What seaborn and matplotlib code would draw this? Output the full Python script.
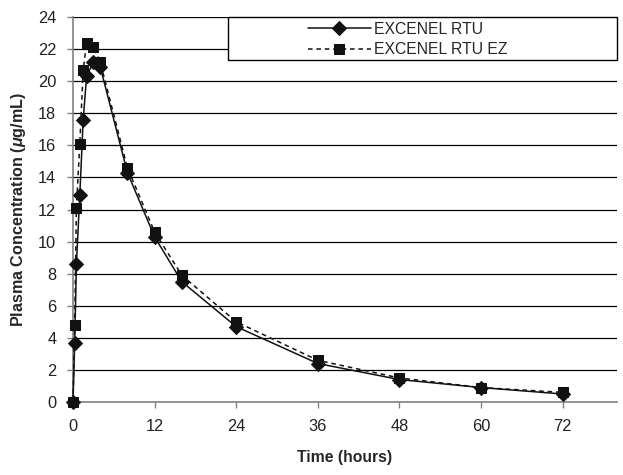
import matplotlib
matplotlib.use("Agg")
import matplotlib.pyplot as plt
import seaborn as sns
import pandas as pd
from matplotlib.patches import Rectangle

# ---- data ----
time_h = [0, 0.25, 0.5, 1, 1.5, 2, 3, 4, 8, 12, 16, 24, 36, 48, 60, 72]
rtu = [0, 3.7, 8.6, 12.9, 17.6, 20.3, 21.2, 20.9, 14.3, 10.3, 7.5, 4.7, 2.4, 1.4, 0.9, 0.5]
rtu_ez = [0, 4.8, 12.1, 16.1, 20.7, 22.4, 22.1, 21.2, 14.6, 10.6, 7.9, 5.0, 2.6, 1.5, 0.9, 0.6]
series_names = ["EXCENEL RTU", "EXCENEL RTU EZ"]
x_ticks = [0, 12, 24, 36, 48, 60, 72]
y_ticks = list(range(0, 25, 2))

sns.set_theme(style="white")
plt.rcParams["font.family"] = ["Liberation Sans", "DejaVu Sans"]
plt.rcParams["mathtext.fontset"] = "custom"
plt.rcParams["mathtext.it"] = "Liberation Sans:italic:bold"
plt.rcParams["mathtext.rm"] = "Liberation Sans:bold"

df = pd.DataFrame({
    "Time": time_h * 2,
    "Conc": rtu + rtu_ez,
    "Product": [series_names[0]] * len(time_h) + [series_names[1]] * len(time_h),
})

fig = plt.figure(figsize=(6.23, 4.75), dpi=100)
ax = fig.add_axes([73 / 623, 1 - 402 / 475, 544 / 623, 385 / 475])

sns.lineplot(data=df[df.Product == series_names[0]], x="Time", y="Conc", ax=ax,
             color="#111111", linewidth=1.1, marker="D", markersize=7,
             markeredgecolor="#111111", markerfacecolor="#111111",
             label=series_names[0], zorder=4, clip_on=False)
sns.lineplot(data=df[df.Product == series_names[1]], x="Time", y="Conc", ax=ax,
             color="#111111", linewidth=1.1, linestyle=(0, (3, 2.5)), marker="s",
             markersize=7.5, markeredgecolor="#111111", markerfacecolor="#111111",
             label=series_names[1], zorder=3, clip_on=False)

ax.set_xlim(0, 80)
ax.set_ylim(0, 24)
ax.set_xticks(x_ticks)
ax.set_yticks(y_ticks)
ax.set_xticklabels([str(t) for t in x_ticks])
ax.set_yticklabels([str(t) for t in y_ticks])
for y in y_ticks[1:]:
    ax.axhline(y, color="black", linewidth=0.9, zorder=1)

for s in ["top", "right"]:
    ax.spines[s].set_visible(False)
for s in ["left", "bottom"]:
    ax.spines[s].set_color("#808080")
    ax.spines[s].set_linewidth(1.2)
    ax.spines[s].set_zorder(2)
ax.tick_params(axis="both", which="both", direction="out", length=4, width=1,
               color="#808080", labelsize=11.8, labelcolor="#222222",
               bottom=True, left=True, pad=8)

ax.set_xlabel("Time (hours)", fontsize=11.3, fontweight="bold", labelpad=12)
ax.set_ylabel(r"Plasma Concentration ($\mu$g/mL)", fontsize=11.6, fontweight="bold", labelpad=7)

# legend box
box = Rectangle((0.285, 0.888), 0.715, 0.112, transform=ax.transAxes,
                facecolor="white", edgecolor="black", linewidth=1.0, zorder=5,
                clip_on=False)
ax.add_patch(box)
leg = ax.legend(loc="center", bbox_to_anchor=(0.615, 0.942), frameon=False,
                fontsize=11.3, handlelength=4.0, handletextpad=0.2,
                labelspacing=0.35, borderpad=0.1)
leg.set_zorder(6)

fig.savefig("out.png", dpi=100)
